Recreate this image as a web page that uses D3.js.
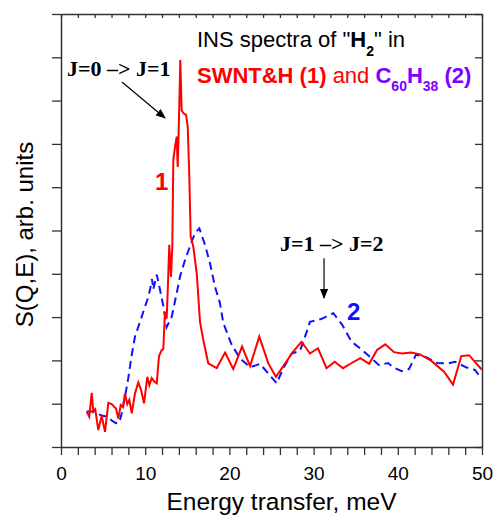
<!DOCTYPE html>
<html>
<head>
<meta charset="utf-8">
<script src="https://cdn.jsdelivr.net/npm/d3@7"></script>
<style>
  html, body { margin: 0; padding: 0; background: #fff; }
  svg { display: block; font-family: "Liberation Sans", Arial, sans-serif; }
  text { white-space: pre; }
</style>
</head>
<body>
<svg id="chart" width="495" height="515"></svg>
<script>
// ---- Data ----
// Series 1: SWNT&H (red, solid)
const energy1 = [3.05,3.36,3.65,3.84,4.07,4.43,4.83,5.23,5.62,6.02,6.53,6.81,7.09,7.36,7.60,7.87,8.11,8.40,8.79,9.18,9.50,9.86,10.25,10.49,10.77,11.05,11.37,11.64,11.96,12.15,12.35,12.55,12.68,12.86,13.06,13.22,13.34,13.54,13.74,13.86,14.01,14.17,14.33,14.52,14.85,15.05,15.24,15.40,15.71,16.12,16.51,16.90,17.49,18.49,19.48,20.46,21.50,22.45,23.55,24.62,25.53,26.48,27.55,28.56,29.57,30.52,31.53,32.51,33.49,34.52,35.55,36.60,37.53,38.52,39.55,40.50,41.57,42.64,43.91,45.49,46.56,47.54,48.46,49.96];
const sqe1 = [0.82,0.70,1.25,0.82,0.87,0.39,0.72,0.35,1.02,0.99,0.89,0.66,0.97,0.92,1.24,0.99,1.09,0.78,1.24,1.49,1.32,1.01,1.62,1.43,1.59,1.52,1.47,2.10,2.24,2.26,3.12,2.97,3.63,4.67,3.93,4.63,6.63,6.93,7.17,6.47,7.55,8.94,7.78,7.71,7.67,7.40,6.24,4.86,4.63,4.01,2.89,2.47,1.93,1.82,2.18,1.80,2.32,1.87,2.55,1.93,1.62,1.89,2.20,2.43,2.16,2.28,1.82,1.97,1.82,1.94,2.05,1.92,2.24,2.37,2.19,2.16,2.18,2.14,2.00,1.74,1.44,2.10,2.12,1.79];
// Series 2: C60H38 (blue, dashed)
const energy2 = [3.05,3.84,4.43,4.95,5.62,6.02,6.53,6.92,7.21,7.60,7.99,8.40,8.79,9.38,9.98,10.37,10.57,10.81,10.96,11.37,11.56,11.76,12.15,12.55,13.15,13.74,14.13,14.73,15.52,15.91,16.43,17.10,17.70,18.29,18.88,19.28,20.27,21.26,22.45,23.63,24.43,25.62,26.40,27.40,28.38,29.18,29.57,30.96,32.34,33.34,34.52,35.51,36.82,37.77,38.84,39.47,40.46,41.33,42.16,43.43,44.66,46.00,46.79,48.10,49.17,49.88];
const sqe2 = [0.82,0.82,0.76,0.72,0.70,0.61,0.55,0.56,0.78,1.16,1.59,2.13,2.55,2.89,3.24,3.47,3.63,3.88,3.64,3.98,3.82,3.63,3.26,2.77,3.01,3.55,3.93,4.32,4.74,4.94,5.05,4.67,4.24,3.70,3.32,2.86,2.36,2.05,1.84,1.92,1.74,1.47,1.82,2.16,2.22,2.66,2.89,2.96,3.09,2.84,2.43,2.28,2.06,1.89,1.94,1.84,1.75,1.80,2.13,2.07,1.94,1.93,1.97,1.84,1.78,1.59];
// Axis ticks
const xTickValues = [0,2,4,6,8,10,12,14,16,18,20,22,24,26,28,30,32,34,36,38,40,42,44,46,48,50];
const xTickLabels = [0,10,20,30,40,50];
const yTickValues = [0,1,2,3,4,5,6,7,8,9,10];

// ---- Layout ----
const svg = d3.select("#chart");
const mLeft = 61, mRight = 482, mTop = 14, mBottom = 447;
const x = d3.scaleLinear().domain([0, 50]).range([mLeft, mRight]);
const y = d3.scaleLinear().domain([0, 10]).range([mBottom, mTop]);
const axisColor = "#333";

function styleAxis(g) {
  g.selectAll("path.domain").attr("stroke", axisColor).attr("stroke-width", 1.5);
  g.selectAll(".tick line").attr("stroke", axisColor).attr("stroke-width", 1.3);
}

// bottom axis
const gB = svg.append("g").attr("transform", `translate(0,${mBottom})`)
  .call(d3.axisBottom(x).tickValues(xTickValues).tickSize(8).tickSizeOuter(0).tickPadding(12)
    .tickFormat(d => xTickLabels.includes(d) ? d : ""));
styleAxis(gB);
gB.selectAll(".tick text").attr("font-size", 19).attr("fill", "#000")
  .attr("font-family", "Liberation Sans, Arial, sans-serif");

// top axis
const gT = svg.append("g").attr("transform", `translate(0,${mTop})`)
  .call(d3.axisBottom(x).tickValues(xTickValues).tickSize(4).tickSizeOuter(0).tickFormat(""));
styleAxis(gT);

// left axis
const gL = svg.append("g").attr("transform", `translate(${mLeft},0)`)
  .call(d3.axisLeft(y).tickValues(yTickValues).tickSize(9).tickSizeOuter(0).tickFormat(""));
styleAxis(gL);

// right axis (ticks inward)
const gR = svg.append("g").attr("transform", `translate(${mRight},0)`)
  .call(d3.axisLeft(y).tickValues(yTickValues).tickSize(7).tickSizeOuter(0).tickFormat(""));
styleAxis(gR);

// ---- Lines ----
const line = d3.line().x(d => x(d[0])).y(d => y(d[1]));
const data1 = energy1.map((e, i) => [e, sqe1[i]]);
const data2 = energy2.map((e, i) => [e, sqe2[i]]);

svg.append("path").datum(data2)
  .attr("d", line).attr("fill", "none")
  .attr("stroke", "#1010ff").attr("stroke-width", 2)
  .attr("stroke-dasharray", "8,5");

svg.append("path").datum(data1)
  .attr("d", line).attr("fill", "none")
  .attr("stroke", "#ff0000").attr("stroke-width", 2)
  .attr("stroke-linejoin", "miter");

// ---- Axis titles ----
svg.append("text")
  .attr("x", (mLeft + mRight) / 2 + 10).attr("y", 510)
  .attr("text-anchor", "middle").attr("font-size", 24.5).attr("fill", "#000")
  .text("Energy transfer, meV");

svg.append("text")
  .attr("transform", `translate(33,${(mTop + mBottom) / 2 + 4}) rotate(-90)`)
  .attr("text-anchor", "middle").attr("font-size", 24).attr("fill", "#000")
  .text("S(Q,E), arb. units");

// ---- Legend / title text ----
const t1 = svg.append("text").attr("x", x(16.15)).attr("y", y(9.24))
  .attr("font-size", 22).attr("fill", "#000");
t1.append("tspan").text("INS spectra of \"");
t1.append("tspan").attr("font-weight", "bold").text("H");
t1.append("tspan").attr("font-weight", "bold").attr("font-size", 14).attr("dy", 9).text("2");
t1.append("tspan").attr("dy", -9).text("\" in");

const t2 = svg.append("text").attr("x", x(16.15)).attr("y", y(8.41))
  .attr("font-size", 22);
t2.append("tspan").attr("font-weight", "bold").attr("fill", "#ff0000").text("SWNT&H (1)");
t2.append("tspan").attr("fill", "#ff0000").text(" and ");
t2.append("tspan").attr("font-weight", "bold").attr("fill", "#8000ff").text("C");
t2.append("tspan").attr("font-weight", "bold").attr("fill", "#8000ff").attr("font-size", 14).attr("dy", 8).text("60");
t2.append("tspan").attr("font-weight", "bold").attr("fill", "#8000ff").attr("dy", -8).text("H");
t2.append("tspan").attr("font-weight", "bold").attr("fill", "#8000ff").attr("font-size", 14).attr("dy", 8).text("38");
t2.append("tspan").attr("font-weight", "bold").attr("fill", "#8000ff").attr("dy", -8).text(" (2)");

// ---- Annotations ----
const serif = "Liberation Serif, 'Times New Roman', serif";
svg.append("text").attr("x", x(0.71)).attr("y", y(8.57))
  .attr("font-family", serif).attr("font-weight", "bold").attr("font-size", 22)
  .attr("fill", "#000").text("J=0 –> J=1");

svg.append("text").attr("x", x(26.0)).attr("y", y(4.53))
  .attr("font-family", serif).attr("font-weight", "bold").attr("font-size", 22)
  .attr("fill", "#000").text("J=1 –> J=2");

svg.append("defs").append("marker")
  .attr("id", "ah").attr("markerUnits", "userSpaceOnUse")
  .attr("markerWidth", 10).attr("markerHeight", 8)
  .attr("refX", 9).attr("refY", 4).attr("orient", "auto")
  .append("path").attr("d", "M0,0 L10,4 L0,8 Z").attr("fill", "#000");

svg.append("line")
  .attr("x1", x(7.24)).attr("y1", y(8.43)).attr("x2", x(12.35)).attr("y2", y(7.60))
  .attr("stroke", "#000").attr("stroke-width", 1.2).attr("marker-end", "url(#ah)");

svg.append("line")
  .attr("x1", x(31.24)).attr("y1", y(4.36)).attr("x2", x(31.24)).attr("y2", y(3.44))
  .attr("stroke", "#000").attr("stroke-width", 1.2).attr("marker-end", "url(#ah)");

svg.append("text").attr("x", x(11.16)).attr("y", y(5.94))
  .attr("font-weight", "bold").attr("font-size", 24).attr("fill", "#ff0000").text("1");

svg.append("text").attr("x", x(33.97)).attr("y", y(2.93))
  .attr("font-weight", "bold").attr("font-size", 24).attr("fill", "#1010ff").text("2");
</script>
</body>
</html>
